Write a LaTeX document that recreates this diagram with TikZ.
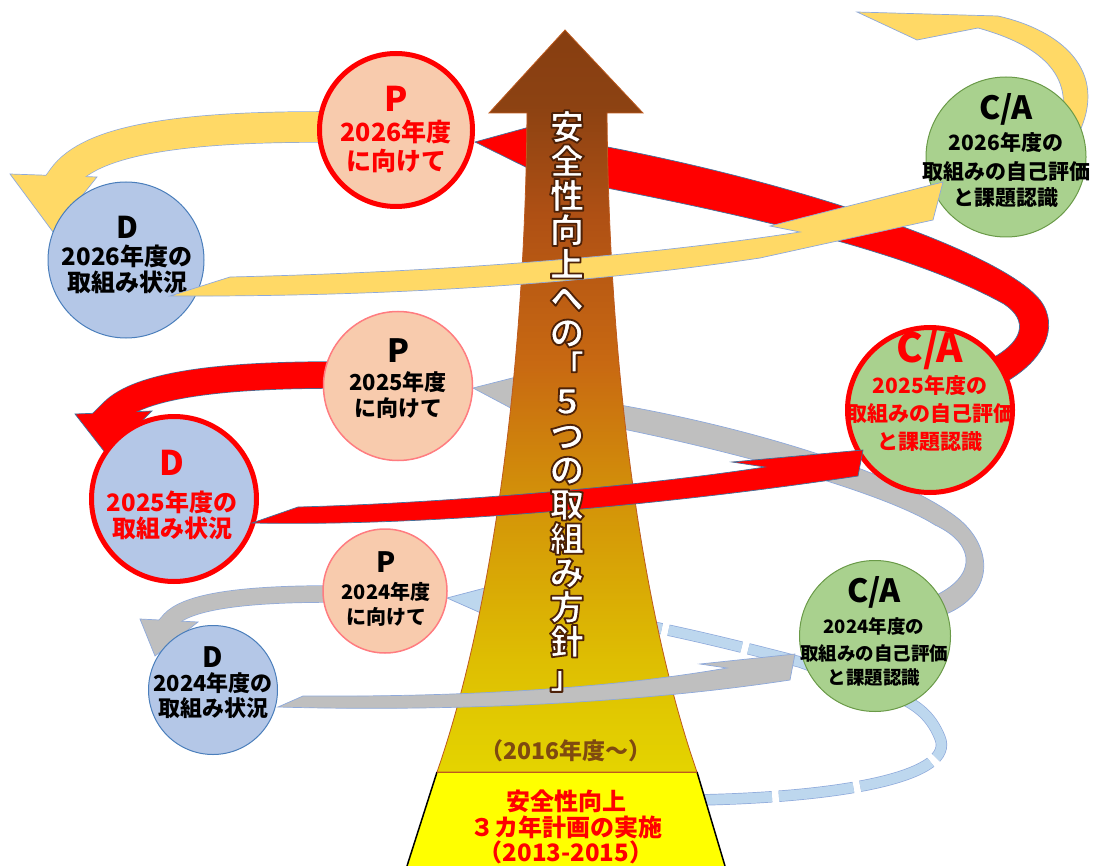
\documentclass[tikz,border=0pt]{standalone}
\usepackage{fontspec}
\setmainfont{Noto Sans CJK JP}
\definecolor{peach}{HTML}{F8CBAD}
\definecolor{dblue}{HTML}{B4C7E7}
\definecolor{dgreen}{HTML}{A9D18E}
\definecolor{gborder}{HTML}{6A9A48}
\definecolor{bborder}{HTML}{4A7EBB}
\definecolor{pborder}{HTML}{FF7C80}
\definecolor{ayellow}{HTML}{FFD966}
\definecolor{agray}{HTML}{BFBFBF}
\definecolor{ablue}{HTML}{BDD7EE}
\definecolor{aoutline}{HTML}{8EA9DB}
\definecolor{routline}{HTML}{41719C}
\definecolor{boxyellow}{HTML}{FFFF00}
\definecolor{brtext}{HTML}{7F4A10}
\definecolor{edgec}{RGB}{190,90,30}
\definecolor{sh0}{RGB}{228,212,0}
\definecolor{sh1}{RGB}{222,190,2}
\definecolor{sh2}{RGB}{212,150,8}
\definecolor{sh3}{RGB}{200,105,18}
\definecolor{sh4}{RGB}{175,80,20}
\definecolor{sh5}{RGB}{140,66,18}
\definecolor{sh6}{RGB}{135,62,17}
\pgfdeclareverticalshading{mainshade}{100bp}{color(0bp)=(sh0); color(25bp)=(sh0); color(32.5bp)=(sh1); color(42.5bp)=(sh2); color(52.5bp)=(sh3); color(62.5bp)=(sh4); color(70bp)=(sh5); color(75bp)=(sh6); color(100bp)=(sh6)}
\newcommand\fsz[1]{\fontsize{#1}{#1}\selectfont\bfseries}
\newcommand\outlinetext{\special{pdf:literal direct 2 Tr 1.8 w 1 j 0.30 0.13 0.03 RG}}
\begin{document}
\begin{tikzpicture}[x=1pt,y=-1pt,
  lbl/.style={anchor=base, inner sep=0pt},
  outl/.style={draw=aoutline, line width=0.7pt},
  routl/.style={draw=routline, line width=0.7pt},
  cP/.style={circle, inner sep=0pt, fill=peach, draw=pborder, line width=1.5pt},
  cD/.style={circle, inner sep=0pt, fill=dblue, draw=bborder, line width=1pt},
  cC/.style={circle, inner sep=0pt, fill=dgreen, draw=gborder, line width=1pt},
  hot/.style={draw=red, line width=5pt}]
\useasboundingbox (0,0) rectangle (1094,866);

% ---- light blue arrow (dashed band)
\draw[line width=11.4pt, aoutline, dash pattern=on 75pt off 7pt] (697,800) .. controls (850,797) and (955,775) .. (940,738) .. controls (932,718) and (920,708) .. (905,700) -- (800,662) .. controls (700,636) and (600,612) .. (487,602);
\path[fill=ablue, outl] (447,598) -- (485,588) -- (490,617) -- cycle;
\draw[line width=10pt, ablue, dash pattern=on 75pt off 7pt] (697,800) .. controls (850,797) and (955,775) .. (940,738) .. controls (932,718) and (920,708) .. (905,700) -- (800,662) .. controls (700,636) and (600,612) .. (487,602);

% ---- gray arrow C/A2024 -> P2025
\path[fill=agray, outl] (473,388) -- (532,373) -- (528,392) .. controls (700,410) and (900,470) .. (960,520) .. controls (995,550) and (995,600) .. (935,618) -- (925,600) .. controls (978,580) and (978,545) .. (935,525) .. controls (880,490) and (700,440) .. (532,412) -- (537,422) -- cycle;

% ---- red arrow C/A2025 -> P2026
\path[fill=red, routl] (475,142) -- (555,120) -- (552,137) .. controls (780,175) and (1000,250) .. (1040,300) .. controls (1060,326) and (1045,362) .. (1000,385) -- (985,362) .. controls (1026,342) and (1028,320) .. (1004,304) .. controls (910,252) and (750,215) .. (555,178) -- (560,184) -- cycle;

% ---- yellow arrow C/A2026 -> next
\path[fill=ayellow, outl] (857,12) -- (998,16) .. controls (1060,30) and (1110,70) .. (1078,135) -- (1060,125) .. controls (1075,75) and (1040,45) .. (978,28) -- (917,40) -- cycle;

% ---- central arrow
\shadedraw[shading=mainshade, draw=edgec, line width=0.8pt] (565,30) -- (643,113) -- (607,113) .. controls (609,380) and (644,620) .. (697,772) -- (437,772) .. controls (490,620) and (525,380) .. (527,113) -- (489,113) -- cycle;
\fill[boxyellow] (437,772) -- (697,772) -- (725,866) -- (407,866) -- cycle;
\draw[line width=1.5pt] (437,772) -- (407,866);
\draw[line width=1.5pt] (697,772) -- (725,866);
\draw[edgec, line width=0.8pt] (437,772) -- (697,772);

\node[lbl, text=brtext] (since) at (566,759) {\fsz{23}（2016年度～）};
\node[lbl, text=red] (b1) at (566,810) {\fsz{24}安全性向上};
\node[lbl, text=red] (b2) at (566,836) {\fsz{24}３カ年計画の実施};
\node[lbl, text=red] (b3) at (566,861) {\fsz{24}（2013-2015）};

% ---- P -> D arrows
\draw[line width=31.4pt, aoutline] (335,127) .. controls (180,126) and (90,140) .. (63,178) -- (58,185);
\path[fill=ayellow, outl] (10,174) -- (97,177) -- (53,232) -- cycle;
\draw[line width=30pt, ayellow] (335,127) .. controls (180,126) and (90,140) .. (63,178) -- (58,185);

\draw[line width=27.4pt, routline] (335,375) .. controls (220,375) and (140,385) .. (113,412) -- (102,423);
\path[fill=red, routl] (75,414) -- (152,411) -- (107,455) -- cycle;
\draw[line width=26pt, red] (335,375) .. controls (220,375) and (140,385) .. (113,412) -- (102,423);

\draw[line width=17.4pt, aoutline] (330,594) .. controls (230,594) and (185,604) .. (170,620) -- (164,627);
\path[fill=agray, outl] (140,619) -- (198,622) -- (155,656) -- cycle;
\draw[line width=16pt, agray] (330,594) .. controls (230,594) and (185,604) .. (170,620) -- (164,627);

% ---- circles
\node[cP, hot, minimum size=153pt] (p26) at (396,130) {};
\node[cD, minimum size=156pt] (d26) at (126,260) {};
\node[cC, minimum size=160pt] (c26) at (1006,157) {};
\node[cP, minimum size=149pt] (p25) at (398,386) {};
\node[cD, hot, minimum size=165pt] (d25) at (174,499) {};
\node[cC, hot, minimum size=165pt] (c25) at (930,410) {};
\node[cP, minimum size=124pt] (p24) at (385,591) {};
\node[cC, minimum size=151pt] (c24) at (875,636) {};
\node[cD, minimum size=129pt] (d24) at (213,690) {};

% texts
\node[lbl, text=red] (p26a) at (396,112) {\fsz{34}P};
\node[lbl, text=red] (p26b) at (396,142) {\fsz{25}2026年度};
\node[lbl, text=red] (p26c) at (396,171) {\fsz{25}に向けて};

\node[lbl] (d26a) at (127,239) {\fsz{30}D};
\node[lbl] (d26b) at (127,266) {\fsz{24}2026年度の};
\node[lbl] (d26c) at (127,292) {\fsz{24}取組み状況};

\node[lbl] (c26a) at (1006,120) {\fsz{32}C/A};
\node[lbl] (c26b) at (1006,151) {\fsz{21}2026年度の};
\node[lbl] (c26c) at (1006,180) {\fsz{21}取組みの自己評価};
\node[lbl] (c26d) at (1006,206) {\fsz{21}と課題認識};

\node[lbl] (p25a) at (398,362) {\fsz{32}P};
\node[lbl] (p25b) at (398,390) {\fsz{22}2025年度};
\node[lbl] (p25c) at (398,416) {\fsz{22}に向けて};

\node[lbl, text=red] (d25a) at (172,475) {\fsz{34}D};
\node[lbl, text=red] (d25b) at (172,511) {\fsz{24}2025年度の};
\node[lbl, text=red] (d25c) at (172,537) {\fsz{24}取組み状況};

\node[lbl, text=red] (c25a) at (930,362) {\fsz{40}C/A};
\node[lbl, text=red] (c25b) at (930,393) {\fsz{21}2025年度の};
\node[lbl, text=red] (c25c) at (930,421) {\fsz{21}取組みの自己評価};
\node[lbl, text=red] (c25d) at (930,449) {\fsz{21}と課題認識};

\node[lbl] (p24a) at (386,572) {\fsz{28}P};
\node[lbl] (p24b) at (386,599) {\fsz{20}2024年度};
\node[lbl] (p24c) at (386,624) {\fsz{20}に向けて};

\node[lbl] (d24a) at (213,667) {\fsz{28}D};
\node[lbl] (d24b) at (213,691) {\fsz{22}2024年度の};
\node[lbl] (d24c) at (213,716) {\fsz{22}取組み状況};

\node[lbl] (c24a) at (874,602) {\fsz{32}C/A};
\node[lbl] (c24b) at (874,633) {\fsz{18.5}2024年度の};
\node[lbl] (c24c) at (874,660) {\fsz{18.5}取組みの自己評価};
\node[lbl] (c24d) at (874,684) {\fsz{18.5}と課題認識};

% ---- D -> C/A arrows (on top)
\path[fill=ayellow, outl] (170,296) -- (230,277) .. controls (450,272) and (650,255) .. (800,232) -- (770,226) -- (943,182) -- (933,220) -- (760,258) .. controls (600,282) and (400,297) .. (170,296) -- cycle;
\path[fill=red, routl] (252,523) -- (298,507) .. controls (450,503) and (650,485) .. (765,467) -- (732,462) -- (863,450) -- (858,476) .. controls (700,500) and (450,527) .. (252,523) -- cycle;
\path[fill=agray, outl] (278,707) -- (303,696) .. controls (450,697) and (600,690) .. (727,668) -- (700,664) -- (795,654) -- (790,680) .. controls (640,703) and (450,712) .. (278,707) -- cycle;

% ---- vertical title (on top of everything)
\foreach \ch [count=\i from 0] in {安,全,性,向,上,へ,の,「,５,つ,の,取,組,み,方,針,」} {
  \pgfmathsetmacro\yy{127+34.3*\i+12.8}
  \node[lbl, text=white] (v\i) at (567,\yy) {\outlinetext\fsz{34.5}\ch};
}
\end{tikzpicture}
\end{document}
